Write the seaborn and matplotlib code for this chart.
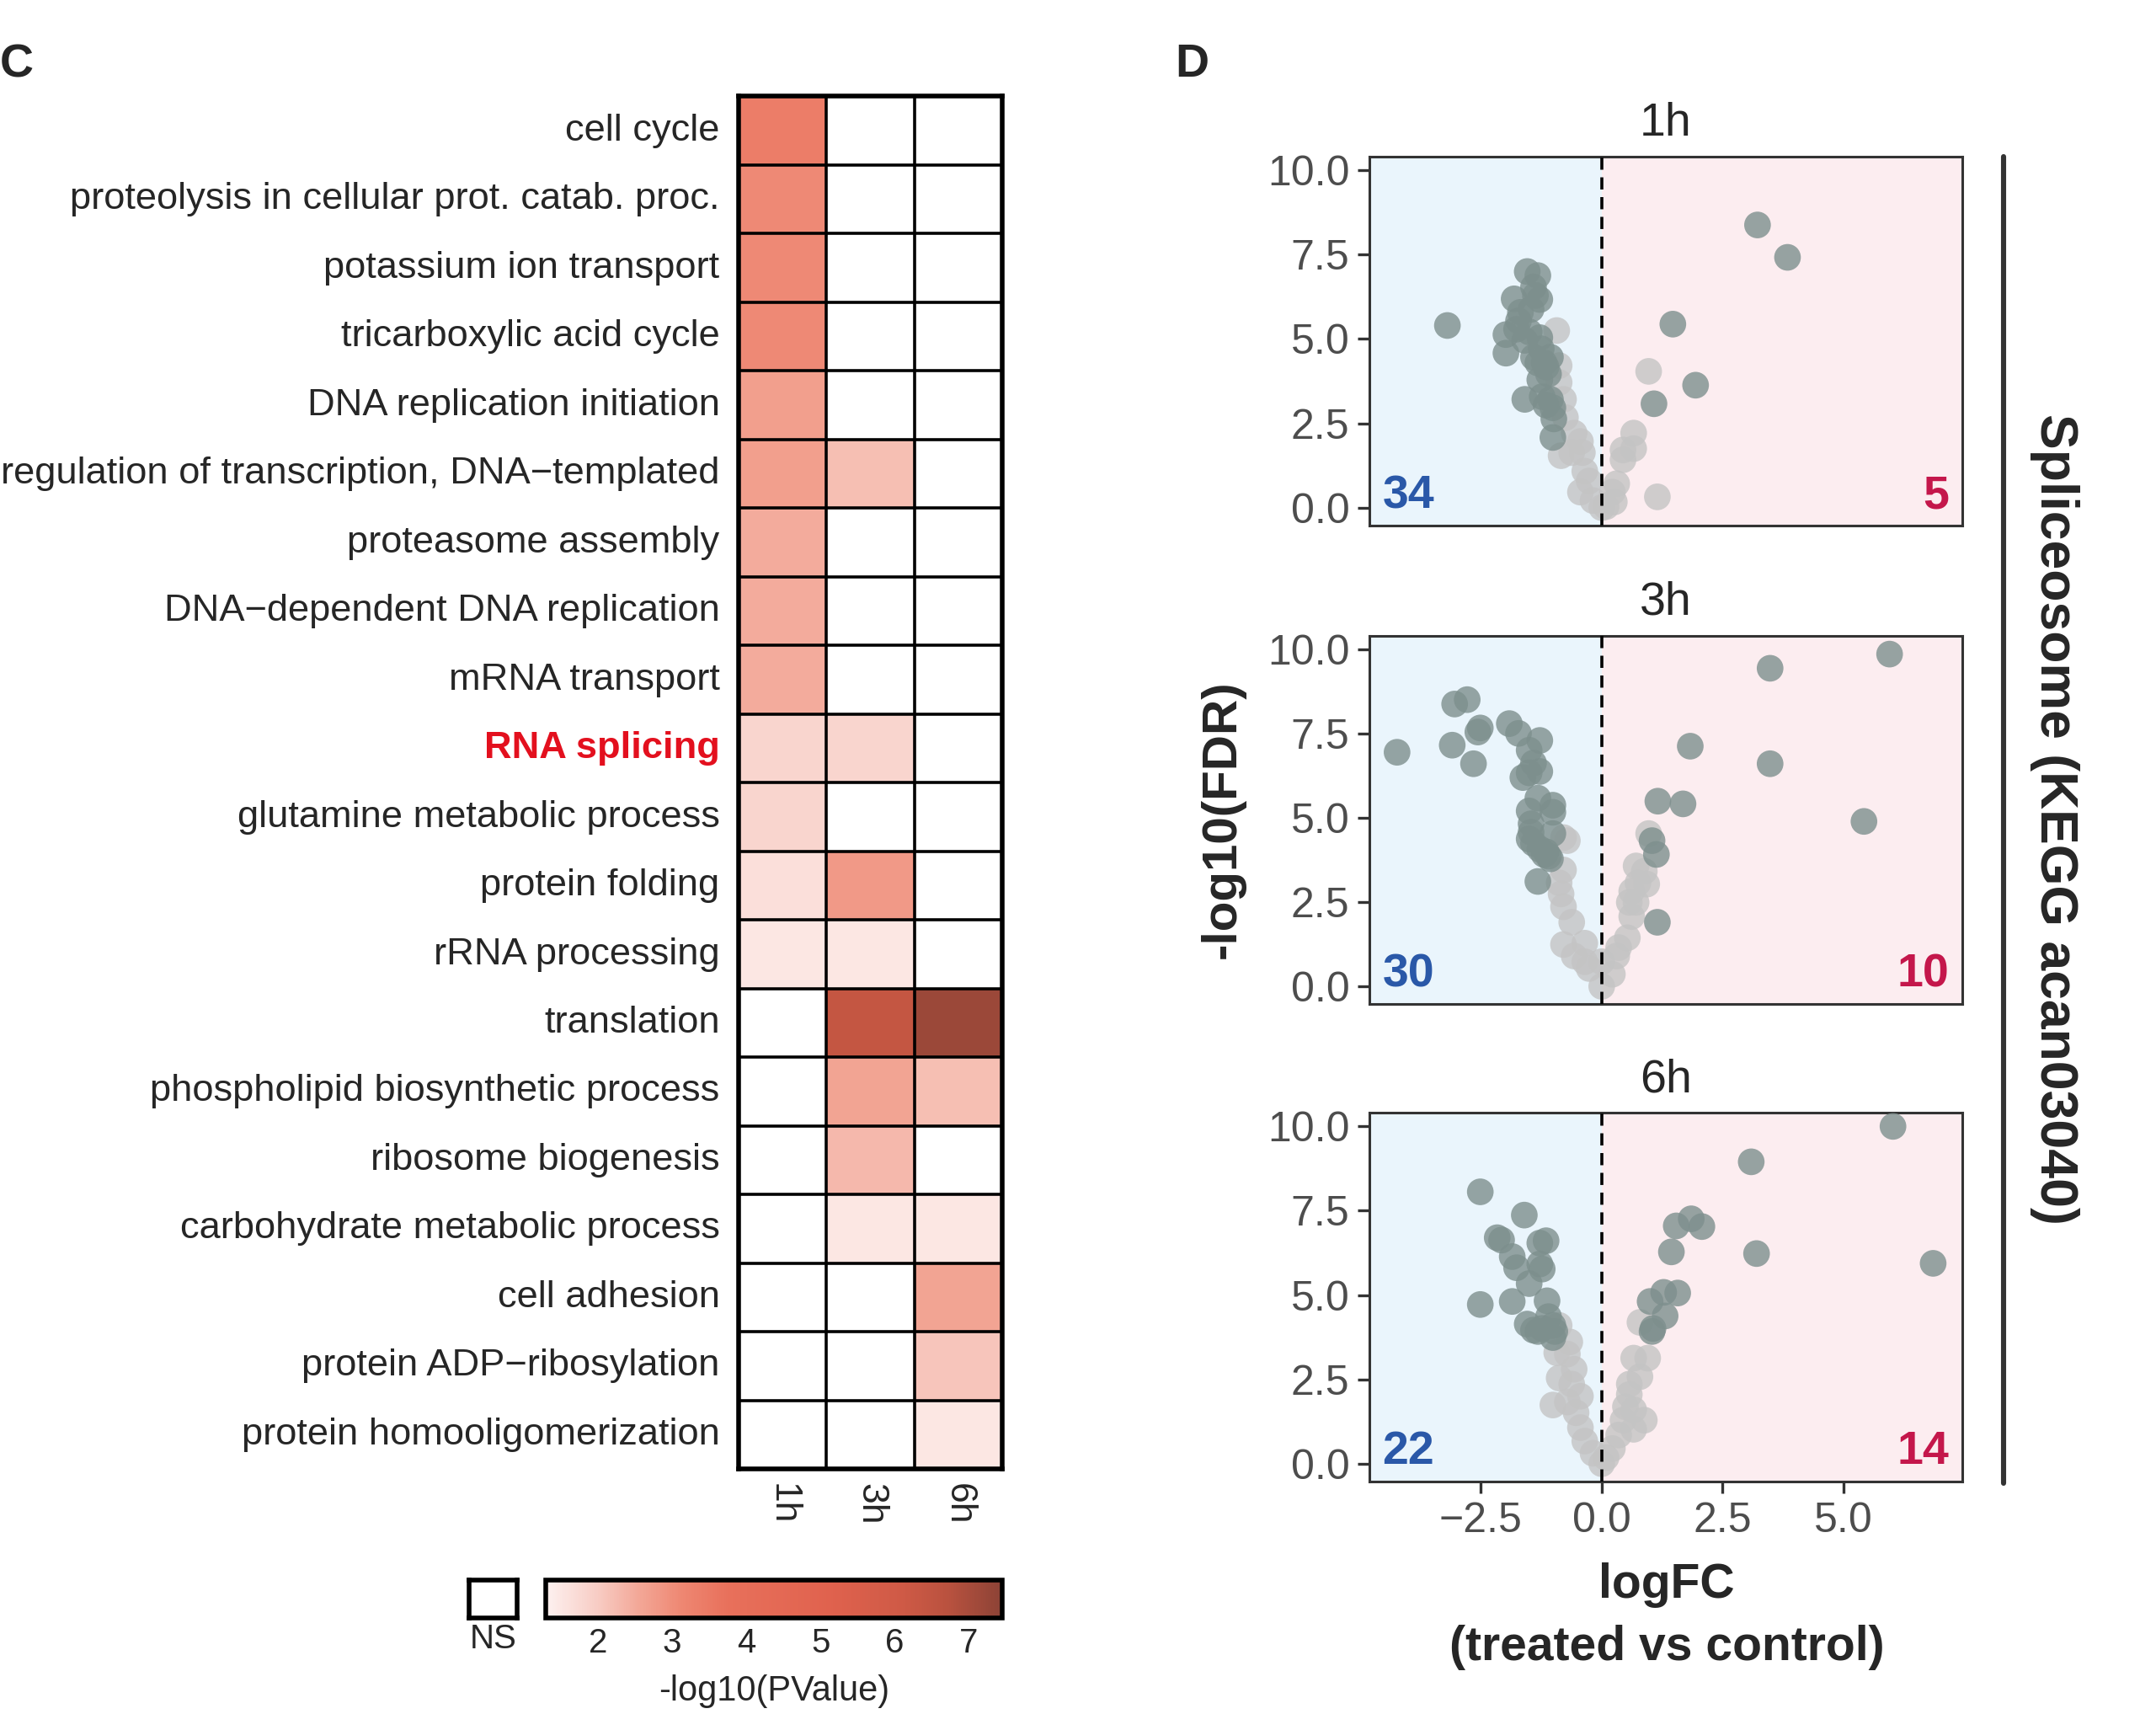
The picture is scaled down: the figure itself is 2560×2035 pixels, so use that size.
import numpy as np
import pandas as pd
import seaborn as sns
import matplotlib.pyplot as plt
from matplotlib.colors import LinearSegmentedColormap

sns.set_style('white')
plt.rcParams['font.family'] = ['Liberation Sans', 'DejaVu Sans']

# ---- panel C data: -log10(PValue), NaN = not significant
terms = ['cell cycle', 'proteolysis in cellular prot. catab. proc.', 'potassium ion transport',
         'tricarboxylic acid cycle', 'DNA replication initiation',
         'regulation of transcription, DNA\u2212templated', 'proteasome assembly',
         'DNA\u2212dependent DNA replication', 'mRNA transport', 'RNA splicing',
         'glutamine metabolic process', 'protein folding', 'rRNA processing', 'translation',
         'phospholipid biosynthetic process', 'ribosome biogenesis',
         'carbohydrate metabolic process', 'cell adhesion', 'protein ADP\u2212ribosylation',
         'protein homooligomerization']
times = ['1h', '3h', '6h']
p_1h = [3.4, 3.1, 3.1, 3.1, 2.7, 2.7, 2.5, 2.5, 2.5, 1.85, 1.85, 1.65, 1.5,
        np.nan, np.nan, np.nan, np.nan, np.nan, np.nan, np.nan]
p_3h = [np.nan, np.nan, np.nan, np.nan, np.nan, 2.2, np.nan, np.nan, np.nan, 1.85,
        np.nan, 2.8, 1.5, 6.4, 2.6, 2.3, 1.5, np.nan, np.nan, np.nan]
p_6h = [np.nan] * 13 + [7.2, 2.2, np.nan, 1.5, 2.6, 2.1, 1.5]

# ---- panel D data: (logFC, -log10 FDR)
dark_1h_x = [-3.19, -1.54, -1.32, -1.81, -1.41, -1.28, -1.46, -1.72, -1.98, -1.98, -1.76,
             -1.59, -1.28, -1.25, -1.06, -1.32, -1.15, -1.28, -1.59, -1.06, -1.01, -0.99,
             -1.01, -1.50, -1.19, -1.10, -1.41, -1.23, -1.15, -1.68, -1.37,
             1.47, 3.22, 3.84, 1.94, 1.08]
dark_1h_y = [5.40, 7.00, 6.88, 6.19, 6.54, 6.17, 5.88, 5.54, 5.13, 4.58, 5.29, 4.96, 5.04,
             4.71, 4.46, 4.29, 4.17, 3.79, 3.21, 3.21, 2.96, 2.63, 2.08, 5.21, 4.29, 3.96,
             4.46, 3.29, 3.04, 5.79, 6.29,
             5.44, 8.38, 7.42, 3.63, 3.08]
light_1h_x = [-0.93, -0.88, -0.88, -0.79, -0.75, -0.57, -0.44, -0.84, -0.62, -0.40, -0.35,
              -0.26, -0.44, -0.18, 0.0, 0.09, 0.26, 0.31, 0.22, 0.44, 0.44, 0.66, 0.66,
              0.97, 1.15]
light_1h_y = [5.25, 4.21, 3.71, 3.21, 2.67, 2.21, 1.96, 1.54, 1.63, 1.63, 1.08, 0.79, 0.46,
              0.21, 0.0, 0.03, 0.17, 0.71, 0.46, 1.42, 1.71, 1.75, 2.21, 4.04, 0.32]

dark_3h_x = [-4.23, -3.04, -2.78, -3.09, -2.51, -2.56, -2.65, -1.91, -1.72, -1.28, -1.50,
             -1.41, -1.28, -1.63, -1.50, -1.32, -1.01, -1.50, -1.01, -1.46, -1.46, -1.01,
             -1.50, -1.28, -1.10, -1.15, -1.32, -1.41, -1.06, -1.19,
             5.95, 3.48, 1.83, 3.48, 1.16, 1.68, 5.42, 1.04, 1.13, 1.15]
dark_3h_y = [6.94, 8.37, 8.50, 7.15, 7.66, 7.54, 6.60, 7.79, 7.50, 7.29, 7.00, 6.62, 6.37,
             6.19, 6.33, 5.58, 5.37, 5.20, 5.16, 4.82, 4.57, 4.53, 4.37, 4.07, 3.86, 3.99,
             3.11, 4.24, 3.78, 3.91,
             9.85, 9.43, 7.12, 6.60, 5.49, 5.41, 4.89, 4.32, 3.91, 1.90]
light_3h_x = [-0.79, -0.71, -0.79, -0.88, -0.84, -0.79, -0.62, -0.79, -0.35, -0.57, -0.35,
              -0.26, 0.0, 0.0, 0.22, 0.31, 0.35, 0.53, 0.62, 0.57, 0.62, 0.75, 0.71, 0.88,
              0.93, 0.97, 0.71]
light_3h_y = [4.41, 4.32, 3.45, 3.07, 2.74, 2.36, 1.90, 1.24, 1.28, 0.90, 0.73, 0.53, 0.0,
              0.73, 0.36, 0.90, 1.15, 1.44, 2.07, 2.49, 2.82, 3.07, 3.57, 3.41, 3.03, 4.53,
              2.49]

dark_6h_x = [-2.51, -1.60, -2.16, -2.07, -1.28, -1.15, -1.85, -1.76, -1.28, -1.23, -1.50,
             -2.51, -1.85, -1.13, -1.54, -1.41, -1.10, -1.01, -1.23, -1.01, -0.97, -1.32,
             6.02, 3.09, 6.85, 3.20, 1.85, 2.07, 1.54, 1.44, 1.28, 1.57, 1.00, 1.31, 1.06,
             1.04]
dark_6h_y = [8.06, 7.37, 6.70, 6.63, 6.54, 6.61, 6.14, 5.81, 5.92, 5.77, 5.34, 4.72, 4.81,
             4.83, 4.14, 3.96, 4.36, 4.10, 4.01, 3.74, 3.92, 3.92,
             10.0, 8.95, 5.94, 6.23, 7.26, 7.03, 7.05, 6.28, 5.08, 5.06, 4.81, 4.38, 4.01,
             3.92]
light_6h_x = [-0.88, -0.66, -0.93, -0.71, -0.57, -0.88, -0.62, -0.44, -1.01, -0.71, -0.53,
              -0.44, -0.35, -0.18, 0.0, 0.09, 0.22, 0.35, 0.44, 0.49, 0.66, 0.88, 0.66,
              0.57, 0.79, 0.66, 0.95, 0.79, 0.57]
light_6h_y = [4.10, 3.61, 3.29, 3.25, 2.80, 2.54, 2.36, 2.00, 1.74, 1.83, 1.51, 1.07, 0.67,
              0.31, 0.0, 0.18, 0.45, 0.85, 1.29, 1.69, 1.60, 1.29, 1.02, 2.36, 2.58, 3.13,
              3.13, 4.19, 2.05]

n_down = [34, 30, 22]
n_up = [5, 10, 14]

volcano = {
    '1h': (light_1h_x, light_1h_y, dark_1h_x, dark_1h_y),
    '3h': (light_3h_x, light_3h_y, dark_3h_x, dark_3h_y),
    '6h': (light_6h_x, light_6h_y, dark_6h_x, dark_6h_y),
}

fig = plt.figure(figsize=(12.8, 10.175), dpi=200)

# ---------------- panel C: heatmap
heat = pd.DataFrame({'1h': p_1h, '3h': p_3h, '6h': p_6h}, index=terms)
cmap = LinearSegmentedColormap.from_list('reds', [
    (0.00, '#fdf1ef'), (0.11, '#f8cdc5'), (0.20, '#f3a898'), (0.30, '#ee8671'),
    (0.40, '#e8705b'), (0.62, '#e0624e'), (0.78, '#cf5a46'), (0.88, '#ba523f'),
    (1.00, '#8c4336')])
vmin, vmax = 1.3, 7.45

ax_h = fig.add_axes([0.3425, 0.1429, 0.1224, 0.8009])
ax_cb = fig.add_axes([0.2532, 0.0562, 0.2117, 0.0217])
sns.heatmap(heat, ax=ax_h, cmap=cmap, vmin=vmin, vmax=vmax, cbar_ax=ax_cb,
            cbar_kws={'orientation': 'horizontal', 'ticks': [2, 3, 4, 5, 6, 7]},
            linewidths=0)
for i in range(1, len(terms)):
    ax_h.axhline(i, color='black', lw=1.3)
for j in range(1, len(times)):
    ax_h.axvline(j, color='black', lw=1.3)
for s in ax_h.spines.values():
    s.set_visible(True)
    s.set_linewidth(2.0)
    s.set_color('black')
ax_h.set_xlabel('')
ax_h.set_ylabel('')
ax_h.tick_params(axis='y', length=0, pad=8)
ax_h.tick_params(axis='x', length=0, pad=6)
ax_h.set_yticklabels(terms, fontsize=16.3, rotation=0)
ax_h.set_xticklabels(times, fontsize=16, rotation=270)
for lab in ax_h.get_yticklabels():
    if lab.get_text() == 'RNA splicing':
        lab.set_color('#e3101e')
        lab.set_fontweight('bold')

ax_cb.tick_params(length=0, labelsize=14.5, pad=4)
cb = ax_h.collections[0].colorbar
cb.outline.set_linewidth(2.0)
cb.outline.set_edgecolor('black')
fig.text(0.3591, 0.0135, '-log10(PValue)', ha='center', va='center', fontsize=15)

ax_ns = fig.add_axes([0.2175, 0.0562, 0.0223, 0.0217])
ax_ns.set_xticks([])
ax_ns.set_yticks([])
for s in ax_ns.spines.values():
    s.set_visible(True)
    s.set_linewidth(2.0)
    s.set_color('black')
fig.text(0.2287, 0.0435, 'NS', ha='center', va='center', fontsize=14.5)

# ---------------- panel D: volcano plots
panel_bottoms = [0.6934, 0.4141, 0.1356]
for k, t in enumerate(times):
    lx, ly, dx, dy = volcano[t]
    ax = fig.add_axes([0.6352, panel_bottoms[k], 0.2749, 0.2151])
    ax.axvspan(-4.8, 0, color='#eaf5fc', zorder=0, lw=0)
    ax.axvspan(0, 7.45, color='#fcedf0', zorder=0, lw=0)
    sns.scatterplot(x=lx, y=ly, ax=ax, color='#c4c4c4', s=130, alpha=0.8,
                    edgecolor='none', zorder=2)
    sns.scatterplot(x=dx, y=dy, ax=ax, color='#7d8f8d', s=130, alpha=0.8,
                    edgecolor='none', zorder=3)
    ax.axvline(0, color='black', lw=1.3, ls=(0, (4, 2.5)), zorder=4)
    ax.set_xlim(-4.8, 7.45)
    ax.set_ylim(-0.53, 10.4)
    ax.set_yticks([0, 2.5, 5, 7.5, 10])
    ax.set_yticklabels(['0.0', '2.5', '5.0', '7.5', '10.0'])
    ax.set_xticks([-2.5, 0, 2.5, 5])
    if k == 2:
        ax.set_xticklabels(['\u22122.5', '0.0', '2.5', '5.0'])
    else:
        ax.set_xticklabels([])
        ax.tick_params(axis='x', length=0)
    ax.tick_params(axis='both', labelsize=18, labelcolor='#4d4d4d', color='#333333',
                   length=5, width=1.2, direction='out', left=True, bottom=(k == 2))
    for s in ax.spines.values():
        s.set_color('#333333')
        s.set_linewidth(1.1)
    ax.set_title(t, fontsize=20, pad=9)
    ax.text(0.022, 0.02, str(n_down[k]), transform=ax.transAxes, color='#2a58a8',
            fontsize=20, fontweight='bold', ha='left', va='bottom')
    ax.text(0.978, 0.02, str(n_up[k]), transform=ax.transAxes, color='#c4174b',
            fontsize=20, fontweight='bold', ha='right', va='bottom')

fig.text(0.567, 0.522, '-log10(FDR)', rotation=90, ha='center', va='center',
         fontsize=21, fontweight='bold')
fig.text(0.773, 0.075, 'logFC', ha='center', va='center', fontsize=20.5, fontweight='bold')
fig.text(0.773, 0.039, '(treated vs control)', ha='center', va='center', fontsize=20.5,
         fontweight='bold')

fig.add_artist(plt.Line2D([0.9292, 0.9292], [0.1348, 0.9085], color='#333333', lw=2.2,
                          transform=fig.transFigure))
fig.text(0.953, 0.522, 'Spliceosome (KEGG acan03040)', rotation=270, ha='center',
         va='center', fontsize=22.5, fontweight='bold')

fig.text(0.0, 0.962, 'C', ha='left', va='center', fontsize=20, fontweight='bold')
fig.text(0.545, 0.962, 'D', ha='left', va='center', fontsize=20, fontweight='bold')

fig.savefig('out.png', dpi=200, facecolor='white')
